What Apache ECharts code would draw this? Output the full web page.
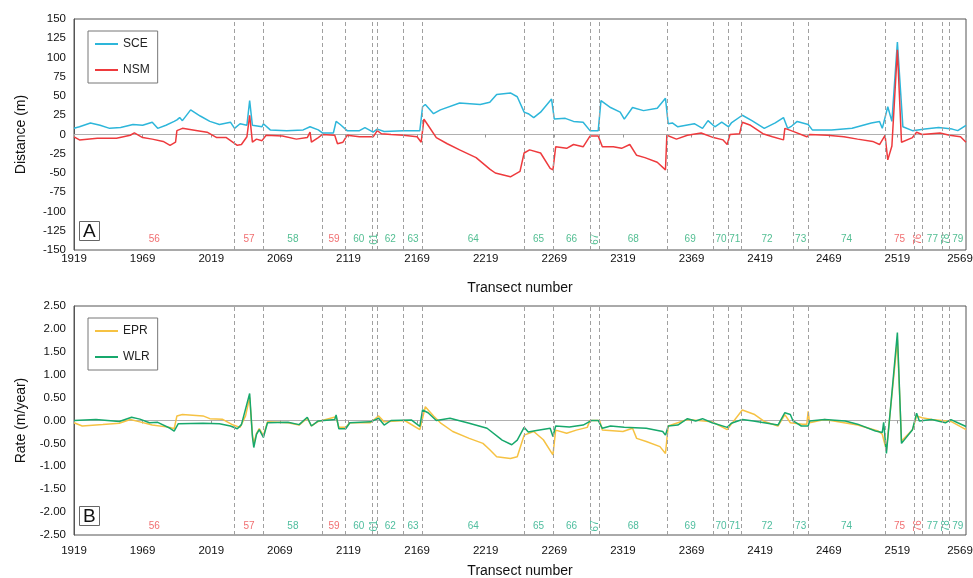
<!DOCTYPE html>
<html>
<head>
<meta charset="utf-8">
<script src="https://cdn.jsdelivr.net/npm/echarts@6/dist/echarts.min.js"></script>
<style>html,body{margin:0;padding:0;background:#fff;}#c{width:973px;height:578px;}</style>
</head>
<body>
<div id="c"></div>
<script>
// ---- data ----
const xTicks = [1919, 1969, 2019, 2069, 2119, 2169, 2219, 2269, 2319, 2369, 2419, 2469, 2519, 2569];
const transectStart = 1919, transectEnd = 2569;

const sceT = [1919,1923,1931,1938,1945,1953,1962,1969,1976,1980,1986,1992,1994,1996,1998,2004,2011,2018,2025,2033,2036,2040,2045,2047,2049,2056,2057,2062,2074,2086,2091,2097,2100,2108,2110,2113,2118,2127,2131,2137,2140,2145,2159,2171,2173,2175,2181,2186,2200,2215,2222,2227,2237,2242,2247,2250,2254,2259,2267,2269,2277,2283,2290,2295,2301,2303,2310,2317,2320,2326,2334,2344,2350,2352,2355,2359,2371,2377,2381,2386,2391,2396,2398,2406,2413,2422,2430,2436,2439,2442,2446,2454,2457,2471,2486,2500,2506,2508,2512,2515,2519,2523,2530,2539,2549,2559,2563,2569];
const sceV = [8,10,15,12,8,9,13,12,16,8,12,17,19,22,18,32,24,17,13,16,8,14,12,44,12,10,14,6,5,6,10,6,2,2,17,13,5,5,9,3,7,4,5,5,36,39,27,32,41,39,42,52,54,49,29,27,22,29,46,20,21,17,16,5,5,44,35,29,20,35,31,34,47,14,15,10,14,8,18,10,16,10,15,25,18,8,15,22,8,11,17,13,6,6,8,15,17,8,36,17,120,10,5,7,9,7,5,12];

const nsmT = [1919,1923,1936,1950,1960,1963,1969,1976,1984,1989,1993,1994,1998,2009,2016,2023,2030,2038,2041,2045,2047,2049,2052,2056,2059,2071,2081,2089,2091,2092,2097,2100,2109,2111,2115,2118,2127,2137,2140,2143,2150,2159,2169,2172,2174,2177,2183,2191,2200,2212,2222,2226,2237,2244,2247,2251,2259,2266,2268,2270,2278,2283,2290,2295,2301,2304,2312,2318,2324,2329,2335,2344,2350,2351,2358,2366,2376,2385,2392,2395,2397,2404,2406,2412,2421,2428,2436,2437,2443,2453,2455,2468,2480,2490,2501,2506,2510,2512,2515,2519,2522,2530,2533,2537,2550,2557,2565,2569];
const nsmV = [-3,-7,-5,-5,-1,2,-4,-6,-9,-14,-10,5,8,5,3,-4,-4,-14,-13,-3,25,-10,-6,-8,-1,-2,-6,-4,3,-10,-4,0,-1,-12,-10,-1,-3,-3,5,1,0,-1,-3,-10,20,12,-4,-12,-20,-30,-45,-50,-55,-48,-24,-20,-24,-44,-46,-16,-18,-13,-16,-2,-2,-16,-16,-18,-13,-27,-30,-36,-46,-1,-6,-1,2,-4,-7,-13,0,1,16,12,1,-3,-7,8,4,-3,0,-1,-3,-6,-9,-13,-1,-33,-15,110,-10,-4,3,0,2,-1,-3,-10];

const eprT = [1919,1925,1940,1952,1960,1967,1976,1989,1992,1994,1998,2013,2018,2027,2035,2040,2044,2047,2049,2050,2052,2054,2057,2060,2075,2083,2089,2092,2097,2110,2112,2117,2120,2135,2141,2145,2160,2171,2175,2181,2186,2195,2207,2217,2222,2227,2237,2242,2247,2254,2261,2268,2270,2278,2285,2293,2295,2302,2304,2319,2326,2329,2336,2346,2350,2352,2358,2366,2384,2395,2398,2406,2415,2422,2432,2437,2441,2450,2453,2454,2455,2466,2490,2505,2508,2511,2519,2522,2530,2533,2537,2544,2558,2569];
const eprV = [-0.05,-0.12,-0.09,-0.06,0.02,-0.03,-0.10,-0.15,-0.18,0.10,0.13,0.10,0.04,0.03,-0.10,-0.15,0.10,0.50,-0.30,-0.50,-0.28,-0.18,-0.33,-0.03,-0.05,-0.10,0.05,-0.12,-0.02,0.08,-0.15,-0.15,-0.05,-0.05,0.10,-0.03,0.00,-0.20,0.30,0.10,-0.05,-0.24,-0.39,-0.50,-0.64,-0.79,-0.83,-0.79,-0.32,-0.24,-0.42,-0.75,-0.21,-0.28,-0.21,-0.15,0.00,0.00,-0.21,-0.24,-0.17,-0.39,-0.46,-0.57,-0.72,-0.12,-0.06,0.02,-0.03,-0.20,-0.08,0.23,0.13,-0.02,-0.12,0.13,-0.05,-0.08,-0.08,0.20,-0.05,0.02,-0.10,-0.23,-0.30,-0.65,1.76,-0.45,-0.20,0.10,0.06,0.02,-0.02,-0.20];

const wlrT = [1919,1935,1952,1961,1967,1974,1980,1989,1992,1995,2013,2025,2033,2038,2041,2047,2049,2050,2052,2054,2057,2060,2075,2083,2089,2092,2097,2109,2110,2112,2117,2120,2135,2141,2145,2150,2165,2171,2173,2177,2183,2193,2207,2220,2231,2238,2242,2247,2250,2256,2266,2268,2270,2280,2290,2293,2296,2301,2304,2310,2320,2336,2348,2350,2352,2359,2366,2372,2377,2384,2395,2398,2406,2414,2422,2432,2437,2441,2443,2449,2454,2455,2466,2481,2490,2503,2508,2509,2511,2519,2522,2530,2533,2535,2544,2554,2558,2563,2569];
const wlrV = [0.00,0.02,-0.02,0.07,0.03,-0.05,-0.04,-0.17,-0.23,-0.07,-0.06,-0.07,-0.12,-0.18,-0.09,0.59,-0.35,-0.59,-0.30,-0.20,-0.37,-0.05,-0.04,-0.09,0.07,-0.12,-0.01,0.02,0.12,-0.18,-0.18,-0.05,-0.03,0.05,-0.10,0.00,0.01,-0.13,0.23,0.17,0.00,0.05,-0.06,-0.17,-0.43,-0.53,-0.43,-0.15,-0.25,-0.22,-0.17,-0.35,-0.12,-0.14,-0.10,-0.05,0.00,0.00,-0.17,-0.12,-0.15,-0.17,-0.24,-0.32,-0.12,-0.10,0.04,-0.01,0.04,-0.05,-0.15,-0.06,0.02,-0.01,-0.05,-0.10,0.17,0.13,-0.01,-0.12,-0.12,-0.01,0.02,-0.01,-0.08,-0.23,-0.26,-0.04,-0.72,1.92,-0.50,-0.20,0.16,-0.01,0.02,-0.05,0.02,-0.05,-0.13];

// segment boundaries (transect numbers) and segment ids / classes
const boundaries = [2036,2057,2100,2117,2136,2140,2159,2173,2247,2268,2295,2302,2351,2385,2396,2405,2443,2454,2510,2531,2537,2552,2557];
const segIds = ['56','57','58','59','60','61','62','63','64','65','66','67','68','69','70','71','72','73','74','75','76','77','78','79'];
const segClass = ['E','E','A','E','A','A','A','A','A','A','A','A','A','A','A','A','A','A','A','E','E','A','A','A'];

// ---- build ----
const FONT = 'Liberation Sans, Arial, sans-serif';
const zip = (t, v) => t.map((x, i) => [x, v[i]]);
const edges = [transectStart].concat(boundaries, [transectEnd]);
function segLabels(yv, green) {
  return segIds.map((id, i) => {
    const a = edges[i], b = edges[i + 1];
    return {
      name: id,
      value: [(a + b) / 2, yv],
      label: { rotate: (b - a) < 8 ? 90 : 0, color: segClass[i] === 'E' ? '#ec4a4c' : green }
    };
  });
}
const boundaryLines = {
  silent: true, symbol: ['none', 'none'], label: { show: false },
  lineStyle: { type: [4, 3], color: '#a0a0a0', width: 1 },
  data: boundaries.map(b => ({ xAxis: b }))
};

const chart = echarts.init(document.getElementById('c'), null, { renderer: 'canvas' });

function xAxisMain(gi, margin, gap) {
  return {
    gridIndex: gi, type: 'value', min: transectStart, max: transectEnd, interval: 50,
    position: 'bottom',
    axisLine: { show: false, onZero: false },
    axisTick: { show: false },
    splitLine: { show: false },
    axisLabel: { color: '#111', fontSize: 11.5, fontFamily: FONT, margin: margin,
      formatter: v => (v === transectEnd ? '{r|' + v + '}' : String(v)),
      rich: { r: { color: '#111', fontSize: 11.5, fontFamily: FONT, padding: [0, 12, 0, 0] } },
      showMinLabel: true, showMaxLabel: true },
    name: 'Transect number', nameLocation: 'middle', nameGap: gap,
    nameTextStyle: { color: '#111', fontSize: 14, fontFamily: FONT }
  };
}
function xAxisZero(gi) {
  return {
    gridIndex: gi, type: 'value', min: transectStart, max: transectEnd, interval: 50,
    position: 'bottom',
    axisLine: { show: true, onZero: true, lineStyle: { color: '#b0b0b0', width: 1 } },
    axisTick: { show: true, length: 3, inside: false, lineStyle: { color: '#999' } },
    axisLabel: { show: false },
    splitLine: { show: false }
  };
}
function legendOf(names, top) {
  return { data: names, orient: 'vertical', left: 88, top: top, icon: 'rect', itemWidth: 23, itemHeight: 2,
    itemGap: 12, padding: [6, 8, 6, 7], borderColor: '#777', borderWidth: 1,
    textStyle: { fontSize: 12, color: '#222', fontFamily: FONT, lineHeight: 14 } };
}

const option = {
  animation: false,
  backgroundColor: '#fff',
  textStyle: { fontFamily: FONT },
  title: [
    { text: 'A', left: 79, top: 221, padding: [1, 4, 0, 4], borderColor: '#666', borderWidth: 1,
      textStyle: { fontSize: 19, fontWeight: 'normal', color: '#111', fontFamily: FONT } },
    { text: 'B', left: 79, top: 506, padding: [1, 4, 0, 4], borderColor: '#666', borderWidth: 1,
      textStyle: { fontSize: 19, fontWeight: 'normal', color: '#111', fontFamily: FONT } }
  ],
  legend: [ legendOf(['SCE', 'NSM'], 31), legendOf(['EPR', 'WLR'], 318) ],
  grid: [
    { left: 74, right: 7, top: 19, height: 231, show: true, borderColor: '#555', borderWidth: 1,
      containLabel: false, outerBoundsMode: 'none' },
    { left: 74, right: 7, top: 306, height: 229, show: true, borderColor: '#555', borderWidth: 1,
      containLabel: false, outerBoundsMode: 'none' }
  ],
  xAxis: [ xAxisMain(0, 3, 31), xAxisMain(1, 10, 29), xAxisZero(0), xAxisZero(1) ],
  yAxis: [
    { gridIndex: 0, type: 'value', min: -150, max: 150, interval: 25,
      axisLine: { show: true, onZero: false, lineStyle: { color: '#555' } }, axisTick: { show: false },
      splitLine: { show: false },
      axisLabel: { color: '#111', fontSize: 11.5, fontFamily: FONT, margin: 8 },
      name: 'Distance (m)', nameLocation: 'middle', nameGap: 46,
      nameTextStyle: { color: '#111', fontSize: 14, fontFamily: FONT } },
    { gridIndex: 1, type: 'value', min: -2.5, max: 2.5, interval: 0.5,
      axisLine: { show: true, onZero: false, lineStyle: { color: '#555' } }, axisTick: { show: false },
      splitLine: { show: false },
      axisLabel: { color: '#111', fontSize: 11.5, fontFamily: FONT, margin: 8, formatter: v => v.toFixed(2) },
      name: 'Rate (m/year)', nameLocation: 'middle', nameGap: 46,
      nameTextStyle: { color: '#111', fontSize: 14, fontFamily: FONT } }
  ],
  series: [
    { name: 'SCE', type: 'line', xAxisIndex: 0, yAxisIndex: 0, data: zip(sceT, sceV), symbol: 'none',
      lineStyle: { color: '#2db6da', width: 1.5 }, itemStyle: { color: '#2db6da' }, markLine: boundaryLines, z: 3 },
    { name: 'NSM', type: 'line', xAxisIndex: 0, yAxisIndex: 0, data: zip(nsmT, nsmV), symbol: 'none',
      lineStyle: { color: '#ee3a3d', width: 1.5 }, itemStyle: { color: '#ee3a3d' }, z: 4 },
    { name: 'segTop', type: 'scatter', xAxisIndex: 0, yAxisIndex: 0, symbolSize: 0, silent: true,
      data: segLabels(-136, '#27ae77'),
      label: { show: true, position: 'inside', formatter: p => p.name, fontSize: 10, fontFamily: FONT } },
    { name: 'EPR', type: 'line', xAxisIndex: 1, yAxisIndex: 1, data: zip(eprT, eprV), symbol: 'none',
      lineStyle: { color: '#f6c243', width: 1.5 }, itemStyle: { color: '#f6c243' }, markLine: boundaryLines, z: 3 },
    { name: 'WLR', type: 'line', xAxisIndex: 1, yAxisIndex: 1, data: zip(wlrT, wlrV), symbol: 'none',
      lineStyle: { color: '#17a86c', width: 1.5 }, itemStyle: { color: '#17a86c' }, z: 4 },
    { name: 'segBot', type: 'scatter', xAxisIndex: 1, yAxisIndex: 1, symbolSize: 0, silent: true,
      data: segLabels(-2.3, '#22ad86'),
      label: { show: true, position: 'inside', formatter: p => p.name, fontSize: 10, fontFamily: FONT } }
  ]
};
chart.setOption(option);
</script>
</body>
</html>
